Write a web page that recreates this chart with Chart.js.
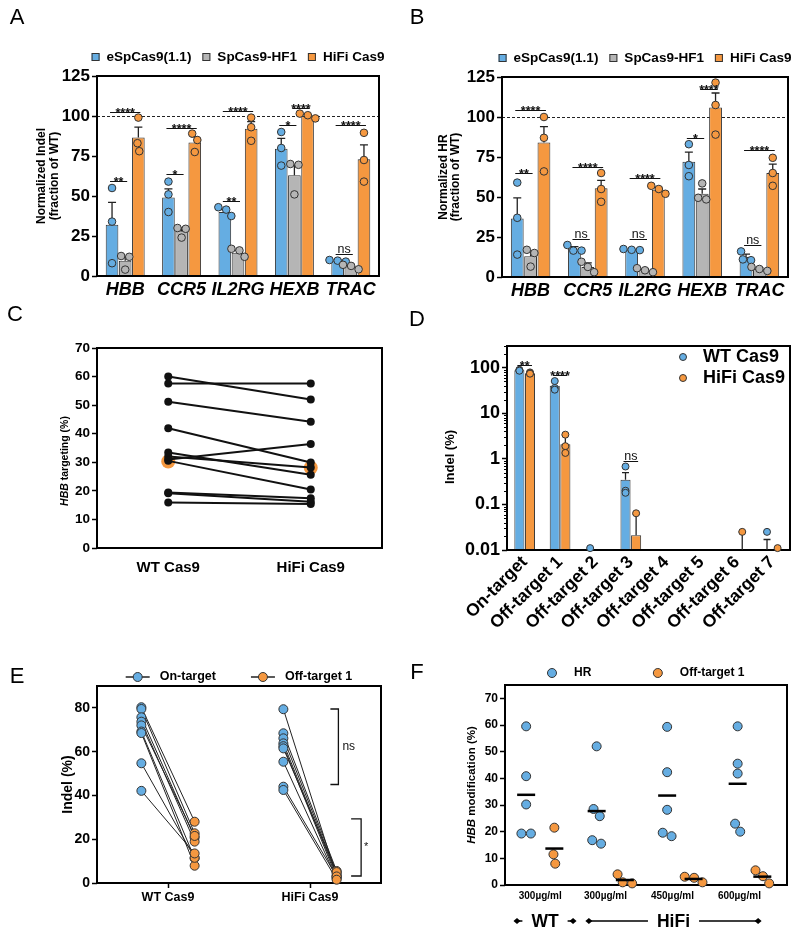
<!DOCTYPE html>
<html lang="en">
<head>
<meta charset="utf-8">
<title>HiFi Cas9 figure</title>
<script src="https://cdn.jsdelivr.net/npm/chart.js@4.4.1/dist/chart.umd.min.js"></script>
<style>
  html, body { margin: 0; padding: 0; background: #fff; }
  #fig { position: relative; width: 800px; height: 938px; overflow: hidden; }
  #fig canvas { position: absolute; }
</style>
</head>
<body>
<div id="fig">
  <canvas id="chartA" width="400" height="300" style="left:0;top:0"></canvas>
  <canvas id="chartB" width="400" height="300" style="left:400px;top:0"></canvas>
  <canvas id="chartC" width="400" height="320" style="left:0;top:300px"></canvas>
  <canvas id="chartE" width="400" height="318" style="left:0;top:620px"></canvas>
  <canvas id="chartF" width="400" height="318" style="left:400px;top:620px"></canvas>
  <canvas id="chartD" width="400" height="340" style="left:400px;top:300px"></canvas>
</div>
<script>
const FONT = '"Liberation Sans", Arial, Helvetica, sans-serif';
const BLUE = '#65ade2';
const GREY = '#b5b5b5';
const ORANGE = '#f59840';
const EDGE = '#333333';

/* ---------- A / B : three high-fidelity variants, normalized to WT ---------- */
const genes = ['HBB', 'CCR5', 'IL2RG', 'HEXB', 'TRAC'];
const variants = ['eSpCas9(1.1)', 'SpCas9-HF1', 'HiFi Cas9'];
const barTicks = [0, 25, 50, 75, 100, 125];

const indelE = [32, 49, 40, 79.5, 9.5];
const indelSp = [9.5, 28, 14.5, 63, 6];
const indelHifi = [86.5, 83.5, 92, 100, 73];
const indelSemE = [14, 5.5, 1.5, 6.5, 0.5];
const indelSemSp = [2.5, 2, 1.5, 6.5, 0.8];
const indelSemHifi = [6.5, 3.5, 4.5, 0.8, 9];
const indelRepE = [[55, 34, 8], [59, 51, 40], [43, 41.5, 37.5], [90, 80, 69], [10, 9.6, 9]];
const indelRepSp = [[12.5, 12, 4], [30, 29.5, 24], [17, 16, 12], [70, 69.5, 51], [7, 6.3, 4.2]];
const indelRepHifi = [[99, 83, 78], [89, 85, 77.5], [99, 93, 84.5], [101.5, 100.5, 98.5], [89.5, 72.5, 59]];
// [gene, from variant, to variant, level, label]
const indelSig = [[0, 0, 1, 59.5, '**'], [0, 0, 2, 102.3, '****'], [1, 0, 1, 63.7, '*'], [1, 0, 2, 92.7, '****'],
  [2, 0, 1, 47, '**'], [2, 0, 2, 103, '****'], [3, 0, 1, 94.4, '*'], [3, 1, 2, 104.8, '****'],
  [4, 0, 1, 13.8, 'ns'], [4, 0, 2, 94.4, '****']];

const hrE = [36.5, 17.8, 17, 72, 12.5];
const hrSp = [13, 6.3, 4.2, 52, 5];
const hrHifi = [84, 55.4, 54.5, 106, 65];
const hrSemE = [13, 1.2, 0.3, 6, 1.8];
const hrSemSp = [3, 2.5, 0.8, 3, 0.8];
const hrSemHifi = [10, 5, 1.5, 9, 5.5];
const hrRepE = [[59, 37, 14], [20, 16.5, 16.5], [17.5, 16.8, 17], [83, 70, 63], [16, 11, 10.5]];
const hrRepSp = [[17, 15, 6.5], [9.5, 6.3, 3], [5.5, 4.2, 3], [58.5, 49.5, 48.5], [6.3, 5, 3.8]];
const hrRepHifi = [[100, 87, 66], [65, 55, 47], [57, 55, 52], [121.5, 107.5, 89], [74.5, 65, 57]];
const hrSig = [[0, 0, 1, 64.9, '**'], [0, 0, 2, 104.6, '****'], [1, 0, 1, 23.6, 'ns'], [1, 0, 2, 69, '****'],
  [2, 0, 1, 23.6, 'ns'], [2, 0, 2, 61.7, '****'], [3, 0, 1, 86.8, '*'], [3, 1, 2, 117.6, '****'],
  [4, 0, 1, 20.3, 'ns'], [4, 0, 2, 79.5, '****']];

/* ---------- C : HBB targeting, paired donors ---------- */
const cConditions = ['WT Cas9', 'HiFi Cas9'];
const cYTicks = [0, 10, 20, 30, 40, 50, 60, 70];
const cWT = [60.0, 57.6, 51.2, 41.9, 33.4, 32.0, 31.0, 30.5, 19.4, 19.2, 15.9];
const cHifi = [52.0, 57.6, 44.2, 29.9, 25.6, 28.2, 36.4, 20.5, 17.4, 16.2, 15.4];
const cMarked = [30.3, 28.1];

/* ---------- D : on/off-target indels, log scale ---------- */
const dSites = ['On-target', 'Off-target 1', 'Off-target 2', 'Off-target 3', 'Off-target 4',
  'Off-target 5', 'Off-target 6', 'Off-target 7'];
const dTicks = [0.01, 0.1, 1, 10, 100];
const dMeanWT = [88, 40, null, 0.35, null, null, null, 0.008];
const dMeanHifi = [76, 2.1, null, 0.021, null, null, 0.008, null];
const dSemWT = [0, 0, 0, 0.15, 0, 0, 0, 0.009];
const dSemHifi = [0, 1.2, 0, 0.04, 0, 0, 0.017, 0];
const dRepWT = [[90, 88, 86], [51, 36, 33], [0.011], [0.68, 0.2, 0.18], [], [], [], [0.025]];
const dRepHifi = [[79, 76, 74], [3.4, 1.9, 1.35], [], [0.064], [], [], [0.025], [0.011]];
const dSig = [[0, 0, 1, 117, '**'], [1, 0, 1, 68, '****'], [3, 0, 1, 0.92, 'ns']];

/* ---------- E : on-target vs off-target 1, paired samples ---------- */
const eConditions = ['WT Cas9', 'HiFi Cas9'];
const eYTicks = [0, 20, 40, 60, 80];
const eOnWT = [80.3, 79.5, 75.7, 73.7, 72, 69.2, 68.5, 54.7, 42.1];
const eOffWT = [28, 22.7, 20.7, 18.9, 21.5, 11.3, 7.9, 11.5, 13.5];
const eOnHifi = [79.4, 68.4, 66.1, 63.8, 62.5, 61.5, 55.4, 44.0, 42.5];
const eOffHifi = [3, 5.5, 4.5, 3.5, 2.5, 5, 2, 3, 1.5];

/* ---------- F : HR and off-target 1 by RNP dose ---------- */
const fDoses = ['300\u00b5g/ml', '300\u00b5g/ml', '450\u00b5g/ml', '600\u00b5g/ml'];
const fYTicks = [0, 10, 20, 30, 40, 50, 60, 70];
const fHR = [[59.5, 40.8, 30.2, 19.3, 19.3], [52, 28.5, 25.8, 16.8, 15.5], [59.3, 42.3, 28.2, 19.6, 18.3], [59.5, 45.5, 41.8, 23, 20]];
const fOff = [[21.5, 11.5, 8], [4, 1, 0.6], [3.1, 2.7, 1], [5.5, 3.3, 0.6]];

Chart.defaults.font.family = FONT;
Chart.defaults.color = '#000';

function mean(a) { return a.reduce((s, v) => s + v, 0) / a.length; }

// spread points that would overlap (pixel y in, pixel x offsets out)
function swarmOffsets(py, d) {
  const idx = py.map((y, i) => i).sort((a, b) => py[a] - py[b]);
  const off = py.map(() => 0);
  let i = 0;
  while (i < idx.length) {
    let j = i;
    const xs = [0];
    while (j + 1 < idx.length && py[idx[j + 1]] - py[idx[j]] < d) {
      const dy = py[idx[j + 1]] - py[idx[j]];
      xs.push(xs[xs.length - 1] + Math.sqrt(d * d - dy * dy));
      j++;
    }
    const mid = (xs[0] + xs[xs.length - 1]) / 2;
    for (let k = i; k <= j; k++) off[idx[k]] = xs[k - i] - mid;
    i = j + 1;
  }
  return off;
}

function fontStr(size, weight, style) { return `${style || 'normal'} ${weight || 'bold'} ${size}px ${FONT}`; }

// text with _italic_ parts, centred at (cx, cy), optionally rotated
function drawRich(ctx, text, cx, cy, size, weight, rotate) {
  const parts = text.split('_').map((t, i) => ({ t, italic: i % 2 === 1 })).filter(p => p.t);
  ctx.save();
  let w = 0;
  parts.forEach(p => { ctx.font = fontStr(size, weight, p.italic ? 'italic' : 'normal'); p.w = ctx.measureText(p.t).width; w += p.w; });
  ctx.translate(cx, cy);
  if (rotate) ctx.rotate(-Math.PI / 2);
  ctx.fillStyle = '#000';
  ctx.textBaseline = 'middle';
  ctx.textAlign = 'left';
  let x = -w / 2;
  parts.forEach(p => { ctx.font = fontStr(size, weight, p.italic ? 'italic' : 'normal'); ctx.fillText(p.t, x, 0); x += p.w; });
  ctx.restore();
}

function drawMarker(ctx, kind, x, y, color, r) {
  ctx.save();
  ctx.strokeStyle = EDGE;
  ctx.lineWidth = 1;
  ctx.fillStyle = color;
  if (kind === 'square') {
    ctx.fillRect(x - r, y - r, 2 * r, 2 * r);
    ctx.strokeRect(x - r + 0.5, y - r + 0.5, 2 * r - 1, 2 * r - 1);
  } else {
    if (kind === 'lineCircle') {
      ctx.beginPath(); ctx.moveTo(x - 12, y); ctx.lineTo(x + 12, y);
      ctx.lineWidth = 1.5; ctx.strokeStyle = '#222'; ctx.stroke();
      ctx.lineWidth = 1; ctx.strokeStyle = EDGE;
    }
    ctx.beginPath(); ctx.arc(x, y, r, 0, Math.PI * 2); ctx.fill(); ctx.stroke();
  }
  ctx.restore();
}

function drawLegend(ctx, a, L) {
  ctx.save();
  ctx.font = fontStr(L.size);
  ctx.fillStyle = '#000';
  ctx.textBaseline = 'middle';
  ctx.textAlign = 'left';
  if (L.vertical) {
    L.items.forEach((it, i) => {
      const y = a.top + L.top + i * L.step;
      drawMarker(ctx, L.marker, a.right - L.right, y, it.color, L.r);
      ctx.fillText(it.label, a.right - L.right + L.gap, y);
    });
  } else {
    const widths = L.items.map(it => ctx.measureText(it.label).width);
    const total = widths.reduce((s, w) => s + L.markerW + L.gap + w, 0) + L.itemGap * (L.items.length - 1);
    let x = (a.left + a.right) / 2 - total / 2;
    L.items.forEach((it, i) => {
      drawMarker(ctx, L.marker, x + L.markerW / 2, L.y, it.color, L.r);
      x += L.markerW + L.gap;
      ctx.fillText(it.label, x, L.y);
      x += widths[i] + L.itemGap;
    });
  }
  ctx.restore();
}

/* ---------------- plugins ---------------- */
const refLinePlugin = {
  id: 'refLine',
  beforeDatasetsDraw(chart, args, o) {
    if (o.value == null) return;
    const { ctx, chartArea: a } = chart;
    const y = Math.round(chart.scales.y.getPixelForValue(o.value)) + 0.5;
    ctx.save();
    ctx.setLineDash([3, 2]);
    ctx.strokeStyle = '#222';
    ctx.lineWidth = 1;
    ctx.beginPath(); ctx.moveTo(a.left, y); ctx.lineTo(a.right, y); ctx.stroke();
    ctx.restore();
  }
};

function strokeFrame(chart) {
  const { ctx, chartArea: a } = chart;
  ctx.save();
  ctx.strokeStyle = '#000';
  ctx.lineWidth = 2;
  ctx.strokeRect(a.left, a.top, a.width, a.height);
  ctx.restore();
}
const framePlugin = {
  id: 'frame',
  beforeDatasetsDraw(chart, args, o) { if (!o.front) strokeFrame(chart); },
  afterDatasetsDraw(chart, args, o) { if (o.front) strokeFrame(chart); }
};

// error bars (mean + SEM) and replicate dots on bar charts
const barExtrasPlugin = {
  id: 'barExtras',
  afterDatasetsDraw(chart, args, o) {
    if (!o.radius) return;
    const { ctx, chartArea: a } = chart;
    const ys = chart.scales.y;
    chart.data.datasets.forEach((ds, di) => {
      chart.getDatasetMeta(di).data.forEach((bar, j) => {
        const m = ds.data[j];
        const s = ds.sem ? ds.sem[j] : 0;
        if (m != null && s > 0) {
          const y0 = ys.getPixelForValue(m);
          const y1 = ys.getPixelForValue(m + s);
          ctx.save();
          ctx.beginPath(); ctx.rect(a.left, a.top, a.width, a.height); ctx.clip();
          ctx.strokeStyle = '#222';
          ctx.lineWidth = 1.3;
          ctx.beginPath();
          ctx.moveTo(bar.x, y0); ctx.lineTo(bar.x, y1);
          ctx.moveTo(bar.x - o.cap, y1); ctx.lineTo(bar.x + o.cap, y1);
          ctx.stroke();
          ctx.restore();
        }
        const vals = (ds.reps && ds.reps[j]) || [];
        const py = vals.map(v => ys.getPixelForValue(v));
        const dx = o.swarm ? swarmOffsets(py, o.radius * 2 + 0.6) : py.map(() => 0);
        py.forEach((y, k) => {
          ctx.save();
          ctx.beginPath(); ctx.arc(bar.x + dx[k], y, o.radius, 0, Math.PI * 2);
          ctx.fillStyle = ds.backgroundColor; ctx.fill();
          ctx.lineWidth = 1; ctx.strokeStyle = EDGE; ctx.stroke();
          ctx.restore();
        });
      });
    });
  }
};

const sigPlugin = {
  id: 'sigMarks',
  afterDatasetsDraw(chart, args, o) {
    if (!o.items) return;
    const { ctx } = chart;
    const ys = chart.scales.y;
    ctx.save();
    ctx.strokeStyle = '#111';
    ctx.fillStyle = '#111';
    ctx.lineWidth = 1;
    ctx.textAlign = 'center';
    ctx.textBaseline = 'alphabetic';
    o.items.forEach(([cat, from, to, level, label]) => {
      const x1 = chart.getDatasetMeta(from).data[cat].x - 2;
      const x2 = chart.getDatasetMeta(to).data[cat].x + 2;
      const y = Math.round(ys.getPixelForValue(level)) + 0.5;
      ctx.beginPath(); ctx.moveTo(x1, y); ctx.lineTo(x2, y); ctx.stroke();
      if (label === 'ns') {
        ctx.font = fontStr(12.5, 'normal');
        ctx.fillText(label, (x1 + x2) / 2, y - 2);
      } else {
        ctx.font = fontStr(12.5, 'bold');
        ctx.fillText(label, (x1 + x2) / 2, y + 4);
      }
    });
    ctx.restore();
  }
};

const minorTickPlugin = {
  id: 'minorTicks',
  afterDraw(chart, args, o) {
    if (!o.on) return;
    const { ctx, chartArea: a } = chart;
    const ys = chart.scales.y;
    ctx.save();
    ctx.strokeStyle = '#000';
    ctx.lineWidth = 1;
    ctx.beginPath();
    for (let e = -2; e <= 2; e++) {
      for (let k = 2; k <= 9; k++) {
        const v = k * Math.pow(10, e);
        if (v > ys.max) break;
        const y = Math.round(ys.getPixelForValue(v)) + 0.5;
        ctx.moveTo(a.left - 3, y); ctx.lineTo(a.left, y);
      }
    }
    ctx.stroke();
    ctx.restore();
  }
};

const bracketPlugin = {
  id: 'brackets',
  afterDraw(chart, args, o) {
    if (!o.items) return;
    const { ctx } = chart;
    const xs = chart.scales.x, ys = chart.scales.y;
    ctx.save();
    ctx.strokeStyle = '#111';
    ctx.fillStyle = '#111';
    ctx.lineWidth = 1.3;
    o.items.forEach(b => {
      const x = xs.getPixelForValue(b.x);
      const y1 = ys.getPixelForValue(b.from), y2 = ys.getPixelForValue(b.to);
      ctx.beginPath();
      ctx.moveTo(x - b.tick, y1); ctx.lineTo(x, y1); ctx.lineTo(x, y2); ctx.lineTo(x - b.tick, y2);
      ctx.stroke();
      ctx.font = fontStr(b.size, 'normal');
      ctx.textAlign = 'left';
      ctx.textBaseline = 'middle';
      ctx.fillText(b.label, x + b.gap, (y1 + y2) / 2);
    });
    ctx.restore();
  }
};

// "◆— WT —◆" style group spans under an x axis
const spanPlugin = {
  id: 'groupSpans',
  afterDraw(chart, args, o) {
    if (!o.items) return;
    const { ctx } = chart;
    const xs = chart.scales.x;
    ctx.save();
    ctx.font = fontStr(o.size);
    ctx.fillStyle = '#000';
    ctx.strokeStyle = '#000';
    ctx.lineWidth = 1.5;
    ctx.textAlign = 'center';
    ctx.textBaseline = 'middle';
    o.items.forEach(g => {
      const x1 = xs.getPixelForValue(g.from), x2 = xs.getPixelForValue(g.to);
      const cx = (x1 + x2) / 2;
      const w = ctx.measureText(g.label).width;
      ctx.fillText(g.label, cx, o.y + 1);
      ctx.beginPath();
      ctx.moveTo(x1, o.y); ctx.lineTo(cx - w / 2 - o.gap, o.y);
      ctx.moveTo(cx + w / 2 + o.gap, o.y); ctx.lineTo(x2, o.y);
      ctx.stroke();
      [x1, x2].forEach(x => {
        ctx.beginPath();
        ctx.moveTo(x - 3.5, o.y); ctx.lineTo(x, o.y - 3); ctx.lineTo(x + 3.5, o.y); ctx.lineTo(x, o.y + 3);
        ctx.closePath(); ctx.fill();
      });
    });
    ctx.restore();
  }
};

const panelTextPlugin = {
  id: 'panelText',
  afterDraw(chart, args, o) {
    const { ctx, chartArea: a } = chart;
    if (o.letter) {
      ctx.save();
      ctx.font = `22px ${FONT}`;
      ctx.fillStyle = '#000';
      ctx.textAlign = 'center';
      ctx.textBaseline = 'middle';
      ctx.fillText(o.letter[0], o.letter[1], o.letter[2]);
      ctx.restore();
    }
    if (o.yTitle) {
      const t = o.yTitle;
      const cy = (a.top + a.bottom) / 2 + (t.dy || 0);
      t.lines.forEach((line, i) => drawRich(ctx, line, t.x[i], cy, t.size, t.weight || 'bold', true));
    }
    if (o.legend) drawLegend(ctx, a, o.legend);
  }
};

Chart.register(refLinePlugin, framePlugin, barExtrasPlugin, sigPlugin, minorTickPlugin,
  bracketPlugin, spanPlugin, panelTextPlugin);

/* ---------------- axis helpers ---------------- */
function yAxis(width, ticks, size, extra) {
  return Object.assign({
    min: ticks[0],
    max: ticks[ticks.length - 1],
    afterFit: s => { s.width = width; },
    afterBuildTicks: s => { s.ticks = ticks.map(v => ({ value: v })); },
    border: { display: false },
    grid: { drawOnChartArea: false, tickLength: 5, tickWidth: 1.5, tickColor: '#000' },
    ticks: { color: '#000', padding: 2, font: { family: FONT, size: size, weight: 'bold' } }
  }, extra || {});
}

const noGrid = { display: false, drawTicks: false };

function baseOptions(top, right) {
  return {
    responsive: false,
    animation: false,
    events: [],
    layout: { padding: { top: top, right: right, left: 0, bottom: 0 } }
  };
}

/* ---------------- A and B ---------------- */
function barPanel(id, cfg) {
  return new Chart(document.getElementById(id), {
    type: 'bar',
    data: {
      labels: genes,
      datasets: variants.map((name, k) => ({
        label: name,
        data: cfg.means[k],
        sem: cfg.sems[k],
        reps: cfg.reps[k],
        backgroundColor: [BLUE, GREY, ORANGE][k],
        borderColor: EDGE,
        borderWidth: 1,
        barPercentage: 0.96,
        categoryPercentage: 0.7
      }))
    },
    options: Object.assign(baseOptions(cfg.top, cfg.right), {
      scales: {
        x: {
          afterFit: s => { s.height = cfg.xh; },
          grid: noGrid,
          border: { display: false },
          ticks: { color: '#000', padding: 3, autoSkip: false, maxRotation: 0,
            font: { family: FONT, size: 18, weight: 'bold', style: 'italic' } }
        },
        y: yAxis(cfg.yw, barTicks, 17)
      },
      plugins: {
        legend: { display: false },
        tooltip: { enabled: false },
        frame: { front: true },
        refLine: { value: 100 },
        barExtras: { radius: 3.8, cap: 4, swarm: true },
        sigMarks: { items: cfg.sig },
        panelText: {
          letter: cfg.letter,
          yTitle: { lines: cfg.title, x: cfg.titleX, size: 12 },
          legend: {
            items: variants.map((v, k) => ({ label: v, color: [BLUE, GREY, ORANGE][k] })),
            marker: 'square', r: 4, markerW: 8, gap: 7, itemGap: 11, y: cfg.legendY, size: 13.5
          }
        }
      }
    })
  });
}

barPanel('chartA', {
  means: [indelE, indelSp, indelHifi], sems: [indelSemE, indelSemSp, indelSemHifi],
  reps: [indelRepE, indelRepSp, indelRepHifi], sig: indelSig,
  top: 76, right: 21, yw: 97, xh: 24, legendY: 57,
  letter: ['A', 17, 18], title: ['Normalized Indel', '(fraction of WT)'], titleX: [42, 55]
});

barPanel('chartB', {
  means: [hrE, hrSp, hrHifi], sems: [hrSemE, hrSemSp, hrSemHifi],
  reps: [hrRepE, hrRepSp, hrRepHifi], sig: hrSig,
  top: 77, right: 12, yw: 102, xh: 23, legendY: 58,
  letter: ['B', 17, 18], title: ['Normalized HR', '(fraction of WT)'], titleX: [44, 56]
});

/* ---------------- C ---------------- */
new Chart(document.getElementById('chartC'), {
  type: 'line',
  data: {
    labels: cConditions,
    datasets: [
      ...cWT.map((v, i) => ({
        data: [v, cHifi[i]],
        borderColor: '#111', borderWidth: 2,
        pointRadius: 4, pointBackgroundColor: '#111', pointBorderColor: '#111', pointBorderWidth: 0,
        order: 1, clip: false
      })),
      { data: cMarked, showLine: false, pointRadius: 7, pointBackgroundColor: ORANGE,
        pointBorderColor: ORANGE, pointBorderWidth: 0, order: 2, clip: false }
    ]
  },
  options: Object.assign(baseOptions(48, 18), {
    scales: {
      x: {
        offset: true,
        afterFit: s => { s.height = 72; },
        grid: noGrid,
        border: { display: false },
        ticks: { color: '#000', padding: 11, font: { family: FONT, size: 15, weight: 'bold' } }
      },
      y: yAxis(97, cYTicks, 13.5)
    },
    plugins: {
      legend: { display: false },
      tooltip: { enabled: false },
      panelText: {
        letter: ['C', 15, 15],
        yTitle: { lines: ['_HBB_ targeting (%)'], x: [65], size: 10.5, dy: 13 }
      }
    }
  })
});

/* ---------------- D ---------------- */
new Chart(document.getElementById('chartD'), {
  type: 'bar',
  data: {
    labels: dSites,
    datasets: [
      { label: 'WT Cas9', data: dMeanWT, sem: dSemWT, reps: dRepWT, backgroundColor: BLUE,
        borderColor: EDGE, borderWidth: 1, barPercentage: 0.95, categoryPercentage: 0.6 },
      { label: 'HiFi Cas9', data: dMeanHifi, sem: dSemHifi, reps: dRepHifi, backgroundColor: ORANGE,
        borderColor: EDGE, borderWidth: 1, barPercentage: 0.95, categoryPercentage: 0.6 }
    ]
  },
  options: Object.assign(baseOptions(46, 10), {
    scales: {
      x: {
        afterFit: s => { s.height = 90; },
        grid: noGrid,
        border: { display: false },
        ticks: { color: '#000', padding: 2, autoSkip: false, minRotation: 45, maxRotation: 45,
          font: { family: FONT, size: 17.5, weight: 'bold' } }
      },
      y: yAxis(107, dTicks, 18, {
        type: 'logarithmic',
        min: 0.01,
        max: 300,
        ticks: { color: '#000', padding: 2, callback: v => String(v),
          font: { family: FONT, size: 18, weight: 'bold' } }
      })
    },
    plugins: {
      legend: { display: false },
      tooltip: { enabled: false },
      frame: { front: true },
      barExtras: { radius: 3.5, cap: 3.5, swarm: false },
      sigMarks: { items: dSig },
      minorTicks: { on: true },
      panelText: {
        letter: ['D', 17, 20],
        yTitle: { lines: ['Indel (%)'], x: [50], size: 13, dy: 9 },
        legend: {
          vertical: true,
          items: [{ label: 'WT Cas9', color: BLUE }, { label: 'HiFi Cas9', color: ORANGE }],
          marker: 'circle', r: 3.5, right: 107, gap: 20, top: 11, step: 21, size: 18
        }
      }
    }
  })
});

/* ---------------- E ---------------- */
const eGroupX = [1, 3];
const eShift = 0.375;
const eLines = [];
const eOnPts = [];
const eOffPts = [];
[[eOnWT, eOffWT], [eOnHifi, eOffHifi]].forEach(([on, off], g) => {
  on.forEach((v, i) => {
    const p1 = { x: eGroupX[g] - eShift, y: v };
    const p2 = { x: eGroupX[g] + eShift, y: off[i] };
    eLines.push({ data: [p1, p2], borderColor: '#222', borderWidth: 1, pointRadius: 0, order: 2, clip: false });
    eOnPts.push(p1);
    eOffPts.push(p2);
  });
});

new Chart(document.getElementById('chartE'), {
  type: 'line',
  data: {
    datasets: [
      ...eLines,
      { data: eOnPts, showLine: false, pointRadius: 4.5, pointBackgroundColor: BLUE,
        pointBorderColor: EDGE, pointBorderWidth: 1, order: 1, clip: false },
      { data: eOffPts, showLine: false, pointRadius: 4.5, pointBackgroundColor: ORANGE,
        pointBorderColor: EDGE, pointBorderWidth: 1, order: 1, clip: false }
    ]
  },
  options: Object.assign(baseOptions(66, 19), {
    scales: {
      x: {
        type: 'linear', min: 0, max: 4,
        afterFit: s => { s.height = 55; },
        afterBuildTicks: s => { s.ticks = eGroupX.map(v => ({ value: v })); },
        border: { display: false },
        grid: { drawOnChartArea: false, tickLength: 5, tickWidth: 1.5, tickColor: '#000' },
        ticks: { color: '#000', padding: 2, callback: (v, i) => eConditions[i],
          font: { family: FONT, size: 12.5, weight: 'bold' } }
      },
      y: yAxis(97, eYTicks, 14, { max: 90 })
    },
    plugins: {
      legend: { display: false },
      tooltip: { enabled: false },
      brackets: {
        items: [
          { x: 3.4, from: 79.5, to: 45, tick: 8, label: 'ns', size: 12, gap: 4 },
          { x: 3.72, from: 29.3, to: 3.2, tick: 10, label: '*', size: 11, gap: 3 }
        ]
      },
      panelText: {
        letter: ['E', 17, 57],
        yTitle: { lines: ['Indel (%)'], x: [68], size: 14 },
        legend: {
          items: [{ label: 'On-target', color: BLUE }, { label: 'Off-target 1', color: ORANGE }],
          marker: 'lineCircle', r: 4.5, markerW: 24, gap: 10, itemGap: 35, y: 57, size: 12.5
        }
      }
    }
  })
});

/* ---------------- F ---------------- */
const fHRX = [0.6, 2.6, 4.6, 6.6];
const fOffX = [1.4, 3.4, 5.35, 7.3];
const fTickX = [1, 2.85, 4.75, 6.65];
const F_PX_X = 282 / 8, F_PX_Y = 200 / 75;

function swarmData(groups, centers) {
  const out = [];
  groups.forEach((vals, g) => {
    const off = swarmOffsets(vals.map(v => -v * F_PX_Y), 9.5);
    vals.forEach((v, k) => out.push({ x: centers[g] + off[k] / F_PX_X, y: v }));
  });
  return out;
}

const meanStyle = { showLine: false, pointStyle: 'line', pointRadius: 9, pointBorderWidth: 2.5,
  pointBorderColor: '#000', order: 0, clip: false };
const dotStyle = { pointRadius: 4.5, pointBorderColor: EDGE, pointBorderWidth: 1, order: 1, clip: false };

new Chart(document.getElementById('chartF'), {
  type: 'scatter',
  data: {
    datasets: [
      Object.assign({ data: fHR.map((g, i) => ({ x: fHRX[i], y: mean(g) })) }, meanStyle),
      Object.assign({ data: fOff.map((g, i) => ({ x: fOffX[i], y: mean(g) })) }, meanStyle),
      Object.assign({ data: swarmData(fHR, fHRX), pointBackgroundColor: BLUE }, dotStyle),
      Object.assign({ data: swarmData(fOff, fOffX), pointBackgroundColor: ORANGE }, dotStyle)
    ]
  },
  options: Object.assign(baseOptions(65, 13), {
    scales: {
      x: {
        type: 'linear', min: 0, max: 8,
        afterFit: s => { s.height = 53; },
        afterBuildTicks: s => { s.ticks = fTickX.map(v => ({ value: v })); },
        grid: noGrid,
        border: { display: false },
        ticks: { color: '#000', padding: 5, callback: (v, i) => fDoses[i],
          font: { family: FONT, size: 10, weight: 'bold' } }
      },
      y: yAxis(105, fYTicks, 12, { max: 75 })
    },
    plugins: {
      legend: { display: false },
      tooltip: { enabled: false },
      groupSpans: {
        y: 301, size: 17.5, gap: 9,
        items: [{ label: 'WT', from: 0.34, to: 1.93 }, { label: 'HiFi', from: 2.38, to: 7.18 }]
      },
      panelText: {
        letter: ['F', 17, 53],
        yTitle: { lines: ['_HBB_ modification (%)'], x: [72], size: 11.5 },
        legend: {
          items: [{ label: 'HR', color: BLUE }, { label: 'Off-target 1', color: ORANGE }],
          marker: 'circle', r: 4.5, markerW: 9, gap: 17.5, itemGap: 62, y: 53, size: 12
        }
      }
    }
  })
});
</script>
</body>
</html>
